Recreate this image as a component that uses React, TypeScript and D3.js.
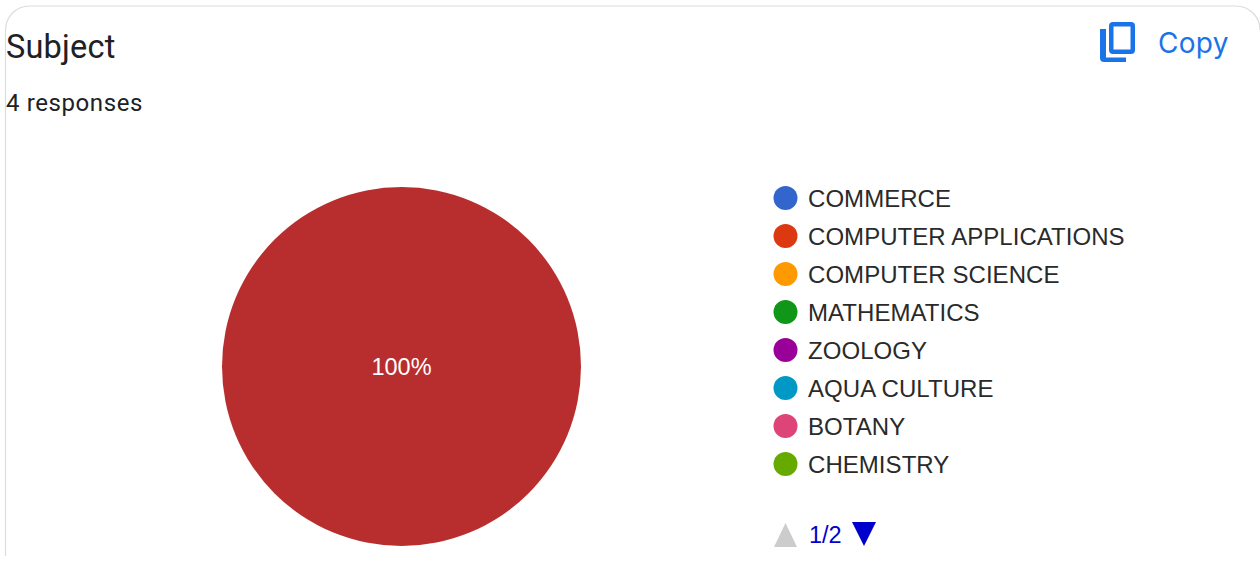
import React from "react";
import * as d3 from "d3";

const title = "Subject";
const responses = "4 responses";
const copyLabel = "Copy";
const categories = ["COMMERCE", "COMPUTER APPLICATIONS", "COMPUTER SCIENCE", "MATHEMATICS", "ZOOLOGY", "AQUA CULTURE", "BOTANY", "CHEMISTRY"];
const colors = ["#3366cc", "#dc3912", "#ff9900", "#109618", "#990099", "#0099c6", "#dd4477", "#66aa00"];
const pieValues = [{ label: "100%", value: 4 }];
const pieColor = "#b82e2e";
const pager = "1/2";

const W = 1260, H = 562;

export default function App() {
  const cx = 401.5, cy = 366.5, r = 179.5;
  const arcs = d3.pie<{ label: string; value: number }>().value(d => d.value).sort(null)(pieValues);
  const arc = d3.arc<d3.PieArcDatum<{ label: string; value: number }>>().innerRadius(0).outerRadius(r);
  const legendY = d3.scalePoint<string>().domain(categories).range([198, 464]);
  const font = "Roboto, sans-serif";
  const arial = "'Liberation Sans', Arial, sans-serif";
  return (
    <svg width={W} height={H} viewBox={`0 0 ${W} ${H}`} style={{ position: "fixed", left: 0, top: 0, display: "block", background: "#fff" }}>
      <path d="M5.5 556 V30 A24 24 0 0 1 29.5 6 H1236 A24 24 0 0 1 1260 30" fill="none" stroke="#dadce0" strokeWidth={1.2} />
      <text x={6} y={58} fontFamily={font} fontSize={32.5} letterSpacing={0.2} fill="#202124">{title}</text>
      <text x={6} y={110.5} fontFamily={font} fontSize={24} letterSpacing={0.6} fill="#202124">{responses}</text>
      <g fill="#1a73e8">
        <path d="M1106 29 h-6 v29 a4 4 0 0 0 4 4 h22 v-4.500 h-20 z" />
        <path fillRule="evenodd" d="M1113 22 h18 a4 4 0 0 1 4 4 v24 a4 4 0 0 1 -4 4 h-18 a4 4 0 0 1 -4 -4 v-24 a4 4 0 0 1 4 -4 z M1113.500 26.500 v23 h17 v-23 z" />
      </g>
      <text x={1158} y={53} fontFamily="Inter, Roboto, sans-serif" fontSize={28} letterSpacing={0.3} fill="#1a73e8">{copyLabel}</text>
      {arcs.map((d, i) => (
        <g key={i} transform={`translate(${cx},${cy})`}>
          <path d={(arc(d) as string) || ""} fill={pieColor} />
          <text x={0} y={8.5} textAnchor="middle" fontFamily={arial} fontSize={23.5} fill="#ffffff">{d.data.label}</text>
        </g>
      ))}
      {categories.map((c, i) => (
        <g key={c}>
          <circle cx={785.500} cy={legendY(c)} r={12} fill={colors[i]} />
          <text x={808} y={(legendY(c) as number) + 8.500} fontFamily={arial} fontSize={24} letterSpacing={0.05} fill="#2a2a2a">{c}</text>
        </g>
      ))}
      <path d="M774 547 L785.500 523 L797 547 Z" fill="#cccccc" />
      <text x={809} y={543} fontFamily={arial} fontSize={23.500} fill="#0000cc">{pager}</text>
      <path d="M852 522 H876 L864 546 Z" fill="#0000cc" />
    </svg>
  );
}
